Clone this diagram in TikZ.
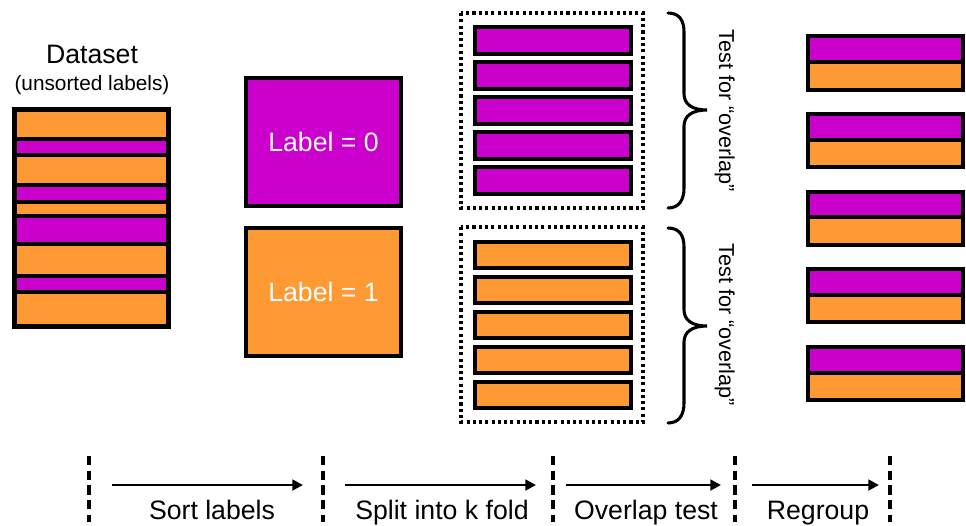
\documentclass[tikz,border=0pt]{standalone}
\usepackage{fontspec}
\setmainfont{Liberation Sans}
\usetikzlibrary{arrows.meta}
\definecolor{mag}{HTML}{CC00CC}
\definecolor{org}{HTML}{FF9933}
\tikzset{
  blk/.style={draw=black, line width=2.6pt},
  thick box/.style={draw=black, line width=3pt},
  labelbox/.style={draw=black, line width=3pt, minimum width=116.25pt, minimum height=96pt, inner sep=0pt},
  dotbox/.style={draw=black, line width=2.3pt, dash pattern=on 2.3pt off 2.4pt},
  sep/.style={draw=black, line width=2.4pt, dash pattern=on 7pt off 4pt},
  flow/.style={draw=black, line width=2.2pt, -{Triangle[length=8pt,width=8pt]}},
  brc/.style={draw=black, line width=2.3pt, line cap=round},
  big/.style={font=\fontsize{20}{24}\selectfont},
  small/.style={font=\fontsize{15.6}{18}\selectfont},
  vtext/.style={font=\fontsize{16.2}{19}\selectfont, rotate=-90, anchor=base},
}
\begin{document}
\begin{tikzpicture}[x=0.75pt,y=-0.75pt]
\useasboundingbox (0,0) rectangle (966,525);

% ---------- Dataset ----------
\node[big, anchor=base] (dtitle) at (92,63) {Dataset};
\node[small, anchor=base] (dsub) at (92,90) {(unsorted labels)};
\foreach \a/\b/\c in {110/139/org,139/155/mag,155/185/org,185/202/mag,202/216/org,216/244/mag,244/276/org,276/292/mag,292/326/org}
  \draw[blk, fill=\c] (15,\a) rectangle (168,\b);
\draw[thick box] (14,109) rectangle (169,327);

% ---------- Sorted labels ----------
\node[labelbox, fill=mag, text=white, big] (l0) at (323.5,142) {Label = 0};
\node[labelbox, fill=org, text=white, big] (l1) at (323.5,292) {Label = 1};

% ---------- k folds ----------
\draw[dotbox] (461,13) rectangle (643,208);
\foreach \t in {27,62,97,132,167}
  \draw[blk, fill=mag] (475,\t) rectangle (631,\t+27);
\draw[dotbox] (461,227) rectangle (643,422);
\foreach \t in {242,277,312,347,382}
  \draw[blk, fill=org] (475,\t) rectangle (631,\t+26);

% ---------- braces ----------
\draw[brc] (668,13) .. controls (679,13) and (684,20) .. (684,32)
  -- (684,94) .. controls (684,104) and (692,110) .. (707,110)
  .. controls (692,110) and (684,116) .. (684,126)
  -- (684,188) .. controls (684,200) and (679,208) .. (668,208);
\draw[brc] (668,228) .. controls (679,228) and (684,235) .. (684,247)
  -- (684,310) .. controls (684,320) and (692,326) .. (707,326)
  .. controls (692,326) and (684,332) .. (684,342)
  -- (684,403) .. controls (684,415) and (679,423) .. (668,423);
\node[vtext] (t1) at (719,111) {Test for “overlap”};
\node[vtext] (t2) at (719,325) {Test for “overlap”};

% ---------- regrouped ----------
\foreach \t/\m/\b in {36/62/90,114/140/167,192/217/245,269/295/322,347/373/400}{
  \draw[blk, fill=mag] (808,\t) rectangle (963,\m);
  \draw[blk, fill=org] (808,\m) rectangle (963,\b);
}

% ---------- timeline ----------
\foreach \x/\n in {89/s0,323/s1,553/s2,735/s3,890/s4}{
  \coordinate (\n t) at (\x,456);
  \coordinate (\n b) at (\x,522);
  \draw[sep] (\n t) -- (\n b);
}
\coordinate (a1s) at (112,485); \coordinate (a1e) at (303,485);
\coordinate (a2s) at (345,485); \coordinate (a2e) at (536,485);
\coordinate (a3s) at (566,485); \coordinate (a3e) at (721,485);
\coordinate (a4s) at (752,485); \coordinate (a4e) at (879,485);
\draw[flow] (a1s) -- (a1e);
\draw[flow] (a2s) -- (a2e);
\draw[flow] (a3s) -- (a3e);
\draw[flow] (a4s) -- (a4e);
\node[big, anchor=base] (lab1) at (212,519) {Sort labels};
\node[big, anchor=base] (lab2) at (442,519) {Split into k fold};
\node[big, anchor=base] (lab3) at (646,519) {Overlap test};
\node[big, anchor=base] (lab4) at (818,519) {Regroup};
\end{tikzpicture}
\end{document}
